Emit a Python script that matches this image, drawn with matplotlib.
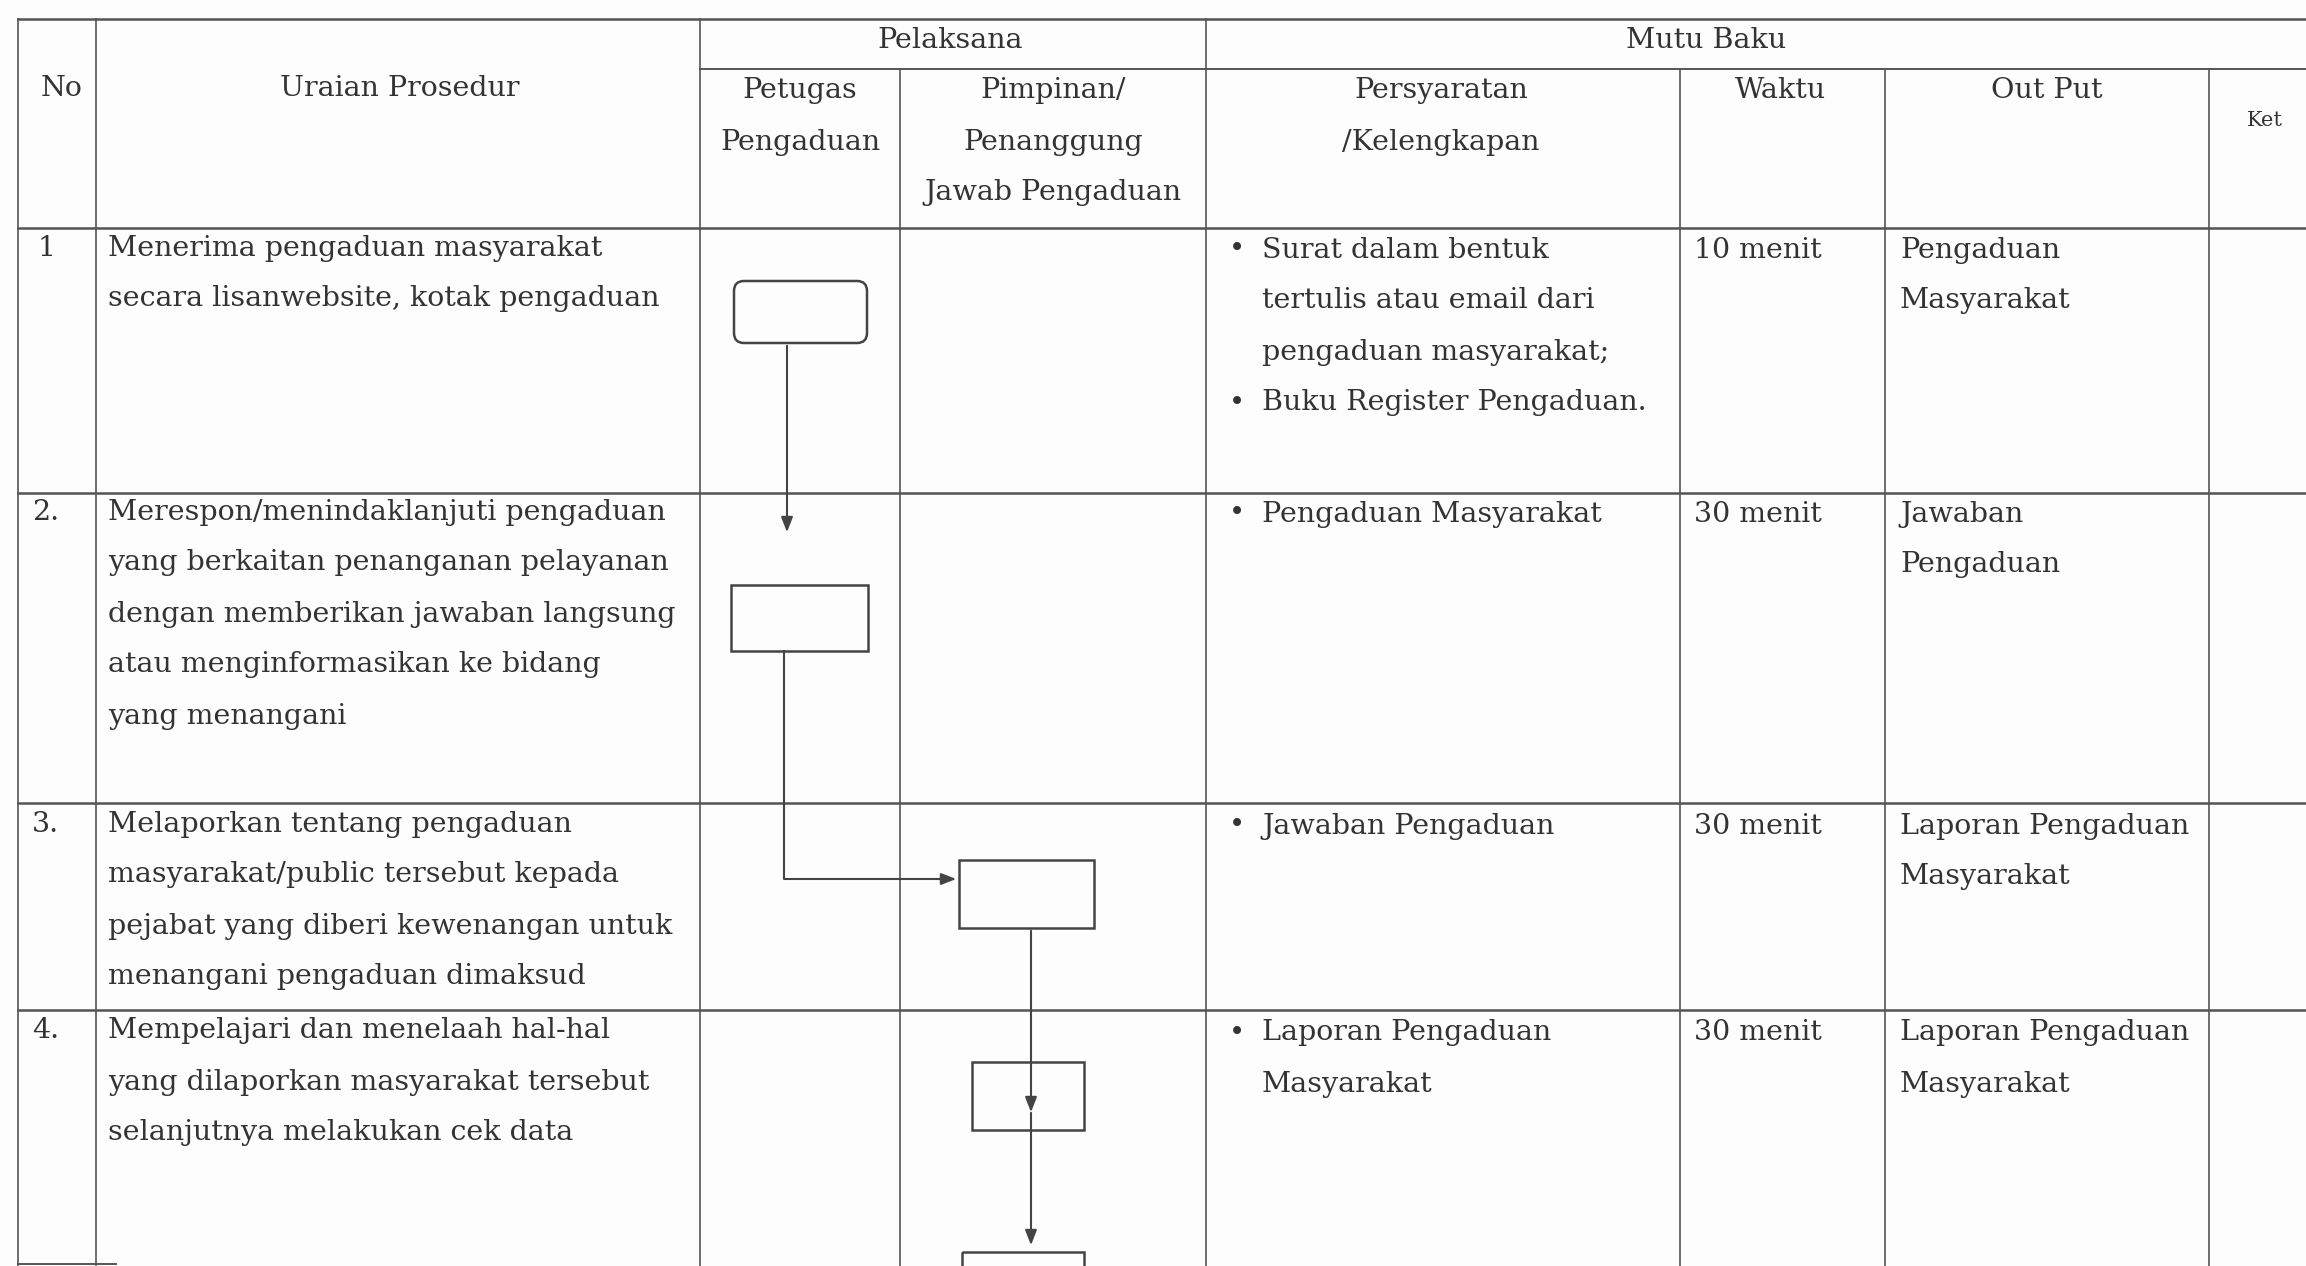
import matplotlib.pyplot as plt
from matplotlib.patches import FancyBboxPatch, Rectangle

W, H = 2306, 1266
LINE = 51  # line spacing in pixels

# table grid (pixel coordinates of the scanned page)
col_x = [18, 96, 700, 900, 1206, 1680, 1885, 2209]
row_y = [19, 228, 493, 803, 1010]
sub_header_y = 69

headers_top = [("Pelaksana", 950), ("Mutu Baku", 1706)]
headers = [
    (["No"], 62),
    (["Uraian Prosedur"], 400),
    (["Petugas", "Pengaduan"], 800),
    (["Pimpinan/", "Penanggung", "Jawab Pengaduan"], 1053),
    (["Persyaratan", "/Kelengkapan"], 1441),
    (["Waktu"], 1780),
    (["Out Put"], 2047),
]

row_no = ["1", "2.", "3.", "4."]
uraian = [
    ["Menerima pengaduan masyarakat", "secara lisanwebsite, kotak pengaduan"],
    ["Merespon/menindaklanjuti pengaduan", "yang berkaitan penanganan pelayanan",
     "dengan memberikan jawaban langsung", "atau menginformasikan ke bidang",
     "yang menangani"],
    ["Melaporkan tentang pengaduan", "masyarakat/public tersebut kepada",
     "pejabat yang diberi kewenangan untuk", "menangani pengaduan dimaksud"],
    ["Mempelajari dan menelaah hal-hal", "yang dilaporkan masyarakat tersebut",
     "selanjutnya melakukan cek data"],
]
persyaratan = [
    [["Surat dalam bentuk", "tertulis atau email dari", "pengaduan masyarakat;"],
     ["Buku Register Pengaduan."]],
    [["Pengaduan Masyarakat"]],
    [["Jawaban Pengaduan"]],
    [["Laporan Pengaduan", "Masyarakat"]],
]
waktu = ["10 menit", "30 menit", "30 menit", "30 menit"]
output = [
    ["Pengaduan", "Masyarakat"],
    ["Jawaban", "Pengaduan"],
    ["Laporan Pengaduan", "Masyarakat"],
    ["Laporan Pengaduan", "Masyarakat"],
]
row_text_y = [248, 512, 824, 1031]

TXT = "#333333"
GRID = "#555555"
FONT = "DejaVu Serif"
FS = 20.5

fig = plt.figure(figsize=(W / 100, H / 100), dpi=100)
ax = fig.add_axes([0, 0, 1, 1])
ax.set_xlim(0, W)
ax.set_ylim(H, 0)
ax.axis("off")
fig.patch.set_facecolor("#fdfdfd")


def txt(x, y, s, ha="left", size=FS):
    ax.text(x, y, s, ha=ha, va="center", fontsize=size, family=FONT, color=TXT)


# grid lines
for y in row_y:
    ax.plot([col_x[0], W], [y, y], color=GRID, lw=1.8)
ax.plot([col_x[2], W], [sub_header_y, sub_header_y], color=GRID, lw=1.4)
for i, x in enumerate(col_x):
    top = sub_header_y if i in (3, 5, 6, 7) else row_y[0]
    ax.plot([x, x], [top, H], color=GRID, lw=1.2)
ax.plot([col_x[0], col_x[1] + 20], [H - 2, H - 2], color=GRID, lw=1.4)

# header text
for label, x in headers_top:
    txt(x, 40, label, ha="center")
for lines, x in headers:
    y0 = 88 if len(lines) == 1 and lines[0] in ("No", "Uraian Prosedur") else 91
    for k, s in enumerate(lines):
        txt(x, y0 + k * LINE, s, ha="center")
txt(2265, 121, "Ket", ha="center", size=15)

# body rows
for r in range(4):
    y0 = row_text_y[r]
    txt(col_x[0] + 20 if r == 0 else col_x[0] + 14, y0, row_no[r])
    for k, s in enumerate(uraian[r]):
        txt(col_x[1] + 12, y0 + k * LINE, s)
    k = 0
    for item in persyaratan[r]:
        txt(1229, y0 + 2 + k * LINE, "\u2022", size=FS - 1)
        for s in item:
            txt(1262, y0 + 2 + k * LINE, s)
            k += 1
    txt(1694, y0 + 2, waktu[r])
    for k, s in enumerate(output[r]):
        txt(1900, y0 + 2 + k * LINE, s)

# flowchart symbols
BOX = dict(fill=False, ec="#444444", lw=1.8)
ax.add_patch(FancyBboxPatch((734, 281), 133, 62, boxstyle="round,pad=0,rounding_size=10", **BOX))
ax.add_patch(Rectangle((731, 585), 137, 66, **BOX))
ax.add_patch(Rectangle((959, 860), 135, 68, **BOX))
ax.add_patch(Rectangle((972, 1062), 112, 68, **BOX))
ax.add_patch(Rectangle((962, 1252), 122, 40, **BOX))

ARW = dict(arrowstyle="-|>,head_length=0.9,head_width=0.35", color="#444444", lw=1.5)
ax.annotate("", xy=(787, 535), xytext=(787, 343), arrowprops=ARW)
ax.plot([784, 784, 940], [651, 879, 879], color="#444444", lw=1.5)
ax.annotate("", xy=(959, 879), xytext=(935, 879), arrowprops=ARW)
ax.annotate("", xy=(1031, 1115), xytext=(1031, 928), arrowprops=ARW)
ax.annotate("", xy=(1031, 1248), xytext=(1031, 1110), arrowprops=ARW)

fig.savefig("out.png", dpi=100, facecolor=fig.get_facecolor())
